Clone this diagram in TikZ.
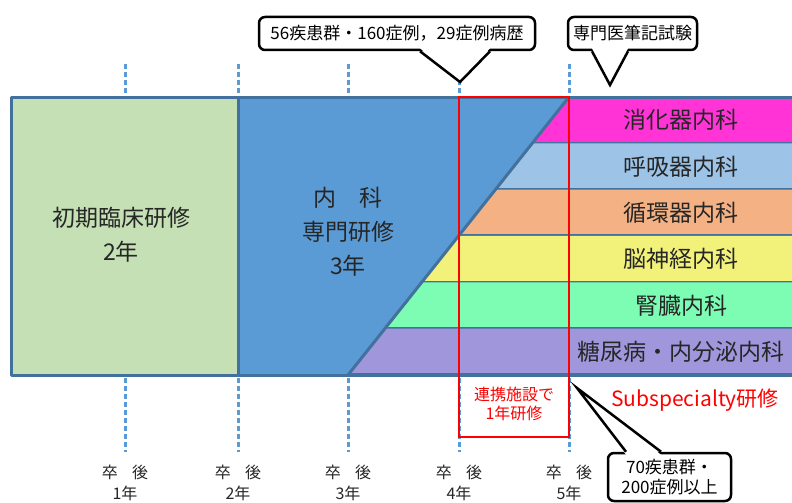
\documentclass[tikz,border=0pt]{standalone}
\usepackage{fontspec}
\setmainfont{Noto Sans CJK JP}

\definecolor{edgeblue}{HTML}{41719C}
\definecolor{tickblue}{HTML}{5B9BD5}
\definecolor{mainblue}{HTML}{5B9BD5}
\definecolor{initgreen}{HTML}{C5E0B4}
\definecolor{giMag}{HTML}{FF33D6}
\definecolor{respBlue}{HTML}{9DC3E6}
\definecolor{cardOrange}{HTML}{F4B183}
\definecolor{neuroYellow}{HTML}{F2F27A}
\definecolor{renalMint}{HTML}{7DFCB4}
\definecolor{endoPurple}{HTML}{A096DC}
\definecolor{redline}{HTML}{FF0000}

\tikzset{
  tick/.style={tickblue, line width=3pt, dash pattern=on 5pt off 3pt},
  band/.style={draw=edgeblue, line width=3pt, line join=round},
  biglbl/.style={font=\fontsize{23}{34}\selectfont, align=center, text=black!85},
  striplbl/.style={font=\fontsize{23}{26}\selectfont, text=black!85},
  yearlbl/.style={font=\fontsize{16}{18}\selectfont, text=black!85},
  balloon/.style={draw=black, fill=white, line width=2.5pt,
    rounded corners=6pt, align=center, inner sep=0pt,
    font=\fontsize{17}{20}\selectfont},
  pointer/.style={draw=black, fill=white, line width=2.5pt, line join=miter}
}

\begin{document}
\begin{tikzpicture}[x=1pt, y=-1pt]
  \useasboundingbox (0,0) rectangle (792,503);

  % Year ticks
  \foreach \x/\n in {125/1, 238/2, 348/3, 459/4, 569/5} {
    \draw[tick] (\x,64) -- (\x,97);
    \draw[tick] (\x,378) -- (\x,452);
    \node[yearlbl] (sotsu\n) at (\x,472) {卒\hspace{0.9em}後};
    \node[yearlbl] (nen\n) at (\x,493) {\n 年};
  }

  % Initial training
  \fill[initgreen] (11,97) rectangle (238,375);
  \node[biglbl] (shoki) at (121,235) {初期臨床研修\\2年};

  % Internal medicine
  \fill[mainblue] (238,97) -- (569,97) -- (348,375) -- (238,375) -- cycle;
  \node[biglbl] (naika) at (348,232) {内\hspace{1em}科\\専門研修\\3年};

  % Subspecialty strips
  \foreach \i/\col/\lbl in {0/giMag/消化器内科, 1/respBlue/呼吸器内科,
      2/cardOrange/循環器内科, 3/neuroYellow/脳神経内科,
      4/renalMint/腎臓内科, 5/endoPurple/糖尿病・内分泌内科} {
    \pgfmathsetmacro{\yt}{97+46.33*\i}
    \pgfmathsetmacro{\yb}{\yt+46.33}
    \pgfmathsetmacro{\xt}{569-(\yt-97)*0.795}
    \pgfmathsetmacro{\xb}{569-(\yb-97)*0.795}
    \fill[\col] (\xt,\yt) -- (800,\yt) -- (800,\yb) -- (\xb,\yb) -- cycle;
    \draw[band] (\xb,\yb) -- (800,\yb);
    \node[striplbl] (sub\i) at (681,{(\yt+\yb)/2}) {\lbl};
  }

  % Borders
  \draw[band] (11,97) rectangle (800,375);
  \draw[band] (238,97) -- (238,375);
  \draw[band] (569,97) -- (348,375);

  % Affiliated facility
  \draw[redline, line width=2.8pt] (459,97) rectangle (569,437);
  \node[redline, font=\fontsize{16}{19}\selectfont, align=center] (renkei) at (514,404) {連携施設で\\1年研修};
  \node[redline, font=\fontsize{21}{24}\selectfont] (subsp) at (695,400) {Subspecialty研修};

  % Callouts
  \node[balloon, minimum width=276pt, minimum height=33pt] (kanja) at (397,33.5)
    {56疾患群・160症例，29症例病歴};
  \node[balloon, minimum width=129pt, minimum height=33pt] (shiken) at (632.5,33.5)
    {専門医筆記試験};
  \node[balloon, minimum width=123pt, minimum height=48pt] (shorei) at (669.5,477)
    {70疾患群・\\200症例以上};

  \coordinate (tip1) at (460,82);
  \coordinate (tip2) at (610,85);
  \coordinate (tip3) at (577,388);
  \fill[white] ([yshift=3pt]420,0 |- kanja.south) -- (tip1) -- ([yshift=3pt]490,0 |- kanja.south) -- cycle;
  \draw[pointer, fill=none] (420,0 |- kanja.south) -- (tip1) -- (490,0 |- kanja.south);
  \fill[white] ([yshift=3pt]592,0 |- shiken.south) -- (tip2) -- ([yshift=3pt]628,0 |- shiken.south) -- cycle;
  \draw[pointer, fill=none] (592,0 |- shiken.south) -- (tip2) -- (628,0 |- shiken.south);
  \fill[white] ([yshift=-3pt]626,0 |- shorei.north) -- (tip3) -- ([yshift=-3pt]661,0 |- shorei.north) -- cycle;
  \draw[pointer, fill=none] (626,0 |- shorei.north) -- (tip3) -- (661,0 |- shorei.north);
\end{tikzpicture}
\end{document}
